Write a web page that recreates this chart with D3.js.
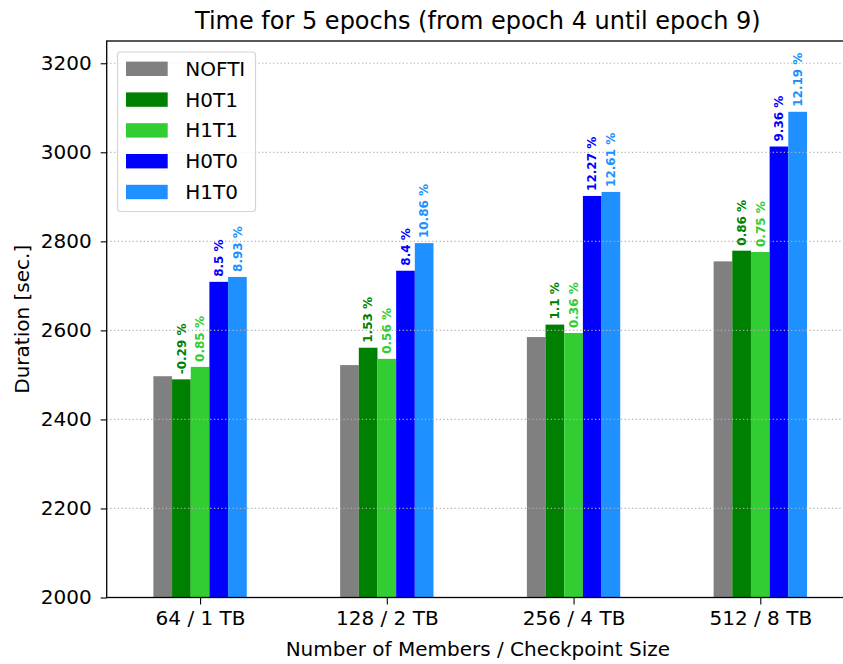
<!DOCTYPE html>
<html>
<head>
<meta charset="utf-8">
<script src="https://cdn.jsdelivr.net/npm/d3@7"></script>
<style>
  body { margin: 0; background: #fff; }
  svg { display: block; font-family: "DejaVu Sans", sans-serif; }
</style>
</head>
<body>
<svg id="chart" width="843" height="664"></svg>
<script>
const categories = ["64 / 1 TB", "128 / 2 TB", "256 / 4 TB", "512 / 8 TB"];
const seriesNames = ["NOFTI", "H0T1", "H1T1", "H0T0", "H1T0"];
const seriesColors = ["#808080", "#008000", "#32cd32", "#0000ff", "#1e90ff"];
const NOFTI = [2497, 2522, 2585, 2755];
const H0T1 = [2490, 2561, 2613, 2779];
const H1T1 = [2518, 2536, 2594, 2776];
const H0T0 = [2709, 2734, 2902, 3013];
const H1T0 = [2720, 2796, 2911, 3091];
const pctH0T1 = ["-0.29 %", "1.53 %", "1.1 %", "0.86 %"];
const pctH1T1 = ["0.85 %", "0.56 %", "0.36 %", "0.75 %"];
const pctH0T0 = ["8.5 %", "8.4 %", "12.27 %", "9.36 %"];
const pctH1T0 = ["8.93 %", "10.86 %", "12.61 %", "12.19 %"];
const yTicks = [2000, 2200, 2400, 2600, 2800, 3000, 3200];

const seriesValues = [NOFTI, H0T1, H1T1, H0T0, H1T0];
const seriesLabels = [null, pctH0T1, pctH1T1, pctH0T0, pctH1T0];

const svg = d3.select("#chart");
const pL = 106.7, pR = 849, pT = 41, pB = 597.5;
const x = d3.scaleLinear().domain([-0.5, 3.475]).range([pL, pR]);
const y = d3.scaleLinear().domain([2000, 3250]).range([pB, pT]);
const barW = 0.1;

// bars
seriesValues.forEach((vals, si) => {
  svg.append("g").selectAll("rect").data(vals).join("rect")
    .attr("x", (d, i) => x(i + (si - 2) * barW - barW / 2))
    .attr("width", x(barW) - x(0))
    .attr("y", d => y(d))
    .attr("height", d => y(2000) - y(d))
    .attr("fill", seriesColors[si]);
});

// grid on top
svg.append("g").selectAll("line").data(yTicks).join("line")
  .attr("x1", pL).attr("x2", pR)
  .attr("y1", d => y(d)).attr("y2", d => y(d))
  .attr("stroke", "#b0b0b0").attr("stroke-width", 1.2)
  .attr("stroke-dasharray", "1.2,2.5");

// percent labels
seriesLabels.forEach((labs, si) => {
  if (!labs) return;
  const vals = seriesValues[si];
  svg.append("g").selectAll("text").data(labs).join("text")
    .attr("transform", (d, i) => `translate(${x(i + (si - 2) * barW)},${y(vals[i]) - 5}) rotate(-90)`)
    .attr("dy", "0.35em")
    .attr("text-anchor", "start")
    .attr("font-size", 12)
    .attr("font-weight", "bold")
    .attr("fill", seriesColors[si])
    .text(d => d);
});

// axes
const yAxis = d3.axisLeft(y).tickValues(yTicks).tickSize(6).tickPadding(9).tickFormat(d3.format("d"));
const gy = svg.append("g").attr("transform", `translate(${pL},0)`).call(yAxis);
gy.select(".domain").remove();
gy.selectAll("text").attr("font-size", 20).attr("font-family", "DejaVu Sans").attr("fill", "#000");
gy.selectAll("line").attr("stroke", "#000").attr("stroke-width", 1.1);

const xAxis = d3.axisBottom(x).tickValues([0, 1, 2, 3]).tickFormat(i => categories[i]).tickSize(7).tickPadding(6);
const gx = svg.append("g").attr("transform", `translate(0,${pB})`).call(xAxis);
gx.select(".domain").remove();
gx.selectAll("text").attr("font-size", 20).attr("font-family", "DejaVu Sans").attr("fill", "#000");
gx.selectAll("line").attr("stroke", "#000").attr("stroke-width", 1.1);

// spines
svg.append("rect").attr("x", pL).attr("y", pT).attr("width", pR - pL).attr("height", pB - pT)
  .attr("fill", "none").attr("stroke", "#000").attr("stroke-width", 1.3);

// titles
svg.append("text").attr("x", (pL + pR) / 2).attr("y", 29).attr("text-anchor", "middle")
  .attr("font-size", 24).text("Time for 5 epochs (from epoch 4 until epoch 9)");
svg.append("text").attr("x", (pL + pR) / 2).attr("y", 656).attr("text-anchor", "middle")
  .attr("font-size", 20).text("Number of Members / Checkpoint Size");
svg.append("text").attr("transform", `translate(29,${(pT + pB) / 2}) rotate(-90)`).attr("text-anchor", "middle")
  .attr("font-size", 20).text("Duration [sec.]");

// legend
const lg = svg.append("g");
lg.append("rect").attr("x", 117.5).attr("y", 52).attr("width", 138).attr("height", 159.5)
  .attr("rx", 3).attr("fill", "#fff").attr("fill-opacity", 0.8).attr("stroke", "#d5d5d5").attr("stroke-width", 1.2);
seriesNames.forEach((name, i) => {
  const cy = 68.8 + i * 30.8;
  lg.append("rect").attr("x", 126).attr("y", cy - 7.2).attr("width", 41.7).attr("height", 14.4).attr("fill", seriesColors[i]);
  lg.append("text").attr("x", 185.3).attr("y", cy).attr("dy", "0.35em").attr("font-size", 20).text(name);
});
</script>
</body>
</html>
